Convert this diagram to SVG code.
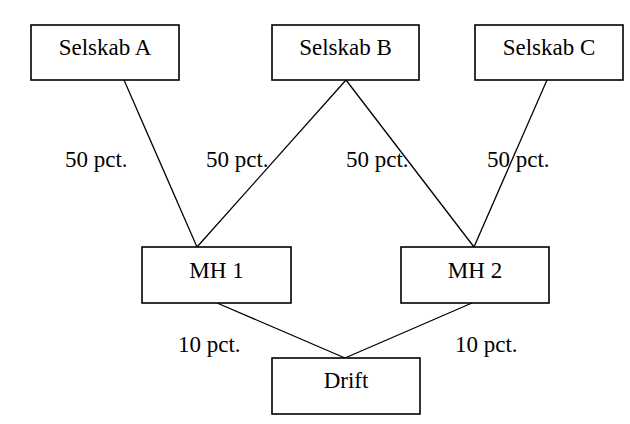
<svg xmlns="http://www.w3.org/2000/svg" width="630" height="424" viewBox="0 0 630 424">
<style>
.box{fill:#fff;stroke:#000;stroke-width:1.6}
.lbl{font-family:'Liberation Serif','DejaVu Serif',serif;font-size:23px;fill:#000}
.c{text-anchor:middle}
.ln{stroke:#000;stroke-width:1.3;fill:none}
</style>
<rect width="630" height="424" fill="#fff"/>
<g id="connectors">
<line class="ln" x1="124" y1="80" x2="197" y2="247"/>
<line class="ln" x1="346" y1="80" x2="197" y2="247"/>
<line class="ln" x1="346" y1="80" x2="474" y2="247"/>
<line class="ln" x1="547" y1="80" x2="474" y2="247"/>
<line class="ln" x1="217" y1="303" x2="345" y2="358"/>
<line class="ln" x1="472" y1="303" x2="345" y2="358"/>
</g>
<g id="labels">
<text class="lbl" font-family="Liberation Serif" x="65" y="167">50 pct.</text>
<text class="lbl" font-family="Liberation Serif" x="206" y="167">50 pct.</text>
<text class="lbl" font-family="Liberation Serif" x="346" y="167">50 pct.</text>
<text class="lbl" font-family="Liberation Serif" x="487" y="167">50 pct.</text>
<text class="lbl" font-family="Liberation Serif" x="178" y="352">10 pct.</text>
<text class="lbl" font-family="Liberation Serif" x="455" y="352">10 pct.</text>
</g>
<g id="selskabA"><rect class="box" x="31" y="25" width="148" height="55"/><text class="lbl c" x="105" y="55">Selskab A</text></g>
<g id="selskabB"><rect class="box" x="272" y="25" width="147" height="55"/><text class="lbl c" x="345.5" y="55">Selskab B</text></g>
<g id="selskabC"><rect class="box" x="475" y="25" width="148" height="55"/><text class="lbl c" x="549" y="55">Selskab C</text></g>
<g id="mh1"><rect class="box" x="142" y="247" width="149" height="56"/><text class="lbl c" x="216.5" y="278">MH 1</text></g>
<g id="mh2"><rect class="box" x="401" y="247" width="148" height="56"/><text class="lbl c" x="475" y="278">MH 2</text></g>
<g id="drift"><rect class="box" x="272" y="358" width="148" height="56"/><text class="lbl c" x="346" y="388">Drift</text></g>
</svg>
